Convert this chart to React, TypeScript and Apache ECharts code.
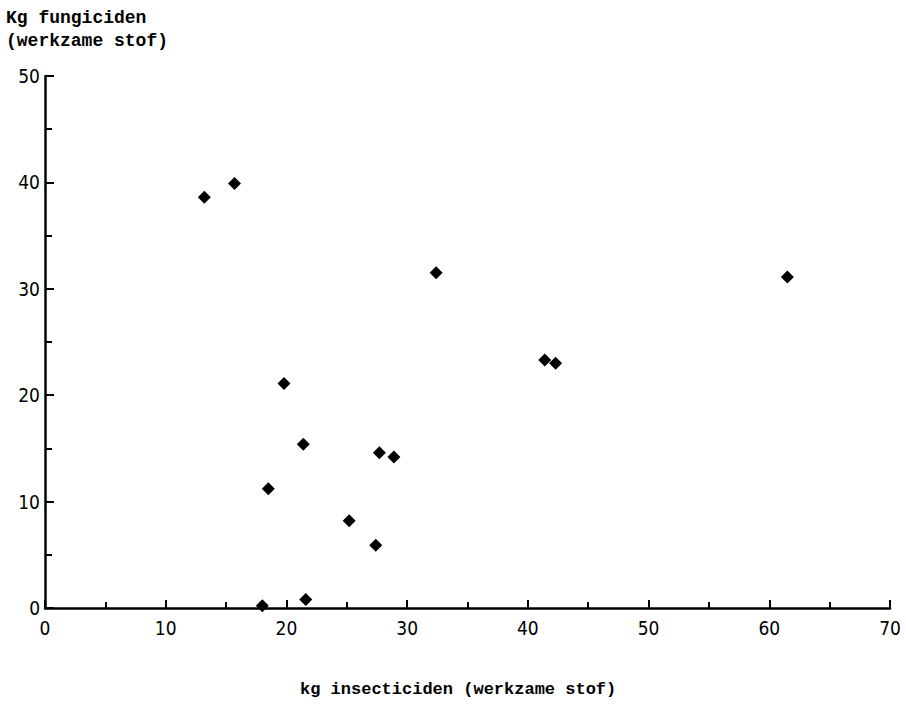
import React, { useEffect, useRef } from "react";
import * as echarts from "echarts";

const insecticiden = [13.2, 15.7, 32.4, 61.5, 41.4, 42.3, 19.8, 21.4, 27.7, 28.9, 18.5, 25.2, 27.4, 18.0, 21.6];
const fungiciden = [38.6, 39.9, 31.5, 31.1, 23.3, 23.0, 21.1, 15.4, 14.6, 14.2, 11.2, 8.2, 5.9, 0.2, 0.8];
const xTicks = [0, 10, 20, 30, 40, 50, 60, 70];
const yTicks = [0, 10, 20, 30, 40, 50];
const yTitle = "Kg fungiciden\n(werkzame stof)";
const xTitle = "kg insecticiden (werkzame stof)";

const mono = "'Liberation Mono', 'DejaVu Sans Mono', monospace";
const sans = "'DejaVu Sans Condensed', 'Liberation Sans', sans-serif";

export default function App() {
  const ref = useRef<HTMLDivElement>(null);
  useEffect(() => {
    if (!ref.current) return;
    const chart = echarts.init(ref.current, null, { renderer: "svg" });
    const data = insecticiden.map((x, i) => [x, fungiciden[i]]);
    chart.setOption({
      animation: false,
      backgroundColor: "#fff",
      grid: { left: 45, right: 16, top: 76, bottom: 103 },
      graphic: [
        {
          type: "text",
          left: 6,
          top: 6,
          style: { text: yTitle, font: `bold 18px ${mono}`, fill: "#000", lineHeight: 23 },
        },
        {
          type: "text",
          left: 300,
          top: 681,
          style: { text: xTitle, font: `bold 17px ${mono}`, fill: "#000" },
        },
      ],
      xAxis: {
        type: "value",
        min: 0,
        max: 70,
        interval: 10,
        axisLine: { lineStyle: { color: "#000", width: 2.5 } },
        axisTick: { show: true, inside: false, length: -8, lineStyle: { color: "#000", width: 2 } },
        minorTick: { show: true, splitNumber: 2, length: -6, lineStyle: { color: "#000", width: 2 } },
        splitLine: { show: false },
        axisLabel: {
          color: "#000",
          fontFamily: sans,
          fontSize: 19,
          margin: 10,
          formatter: (v: number) => (xTicks.includes(v) ? String(v) : ""),
        },
      },
      yAxis: {
        type: "value",
        min: 0,
        max: 50,
        interval: 10,
        axisLine: { show: true, lineStyle: { color: "#000", width: 2.5 } },
        axisTick: { show: true, inside: false, length: -9, lineStyle: { color: "#000", width: 2 } },
        minorTick: { show: true, splitNumber: 2, length: -7, lineStyle: { color: "#000", width: 2 } },
        splitLine: { show: false },
        axisLabel: {
          color: "#000",
          fontFamily: sans,
          fontSize: 19,
          margin: 5,
          formatter: (v: number) => (yTicks.includes(v) ? String(v) : ""),
        },
      },
      series: [
        {
          type: "scatter",
          symbol: "diamond",
          symbolSize: 13,
          itemStyle: { color: "#000", opacity: 1 },
          data,
        },
      ],
    });
    return () => chart.dispose();
  }, []);
  return (
    <div
      ref={ref}
      style={{ position: "fixed", left: 0, top: 0, width: 906, height: 711 }}
    />
  );
}
